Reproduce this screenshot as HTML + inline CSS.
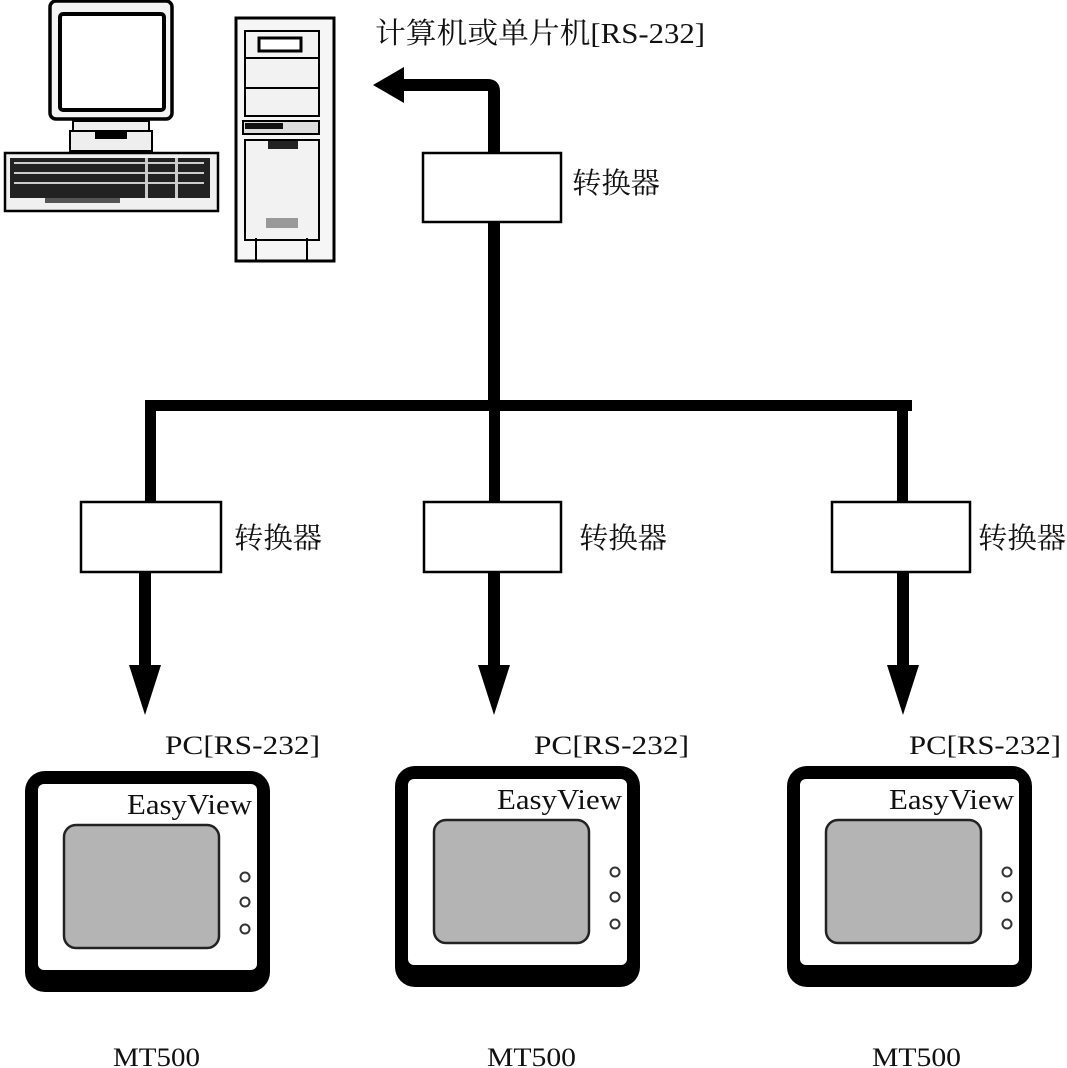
<!DOCTYPE html>
<html><head><meta charset="utf-8"><style>
html,body{margin:0;padding:0;background:#fff;}
svg{display:block;}
.cn{font-family:"Liberation Serif","Noto Serif CJK SC",serif;font-size:29px;fill:#111;}
.sr{font-family:"Liberation Serif",serif;font-size:26px;fill:#111;}
</style></head><body>
<svg width="1067" height="1068" viewBox="0 0 1067 1068" xmlns="http://www.w3.org/2000/svg">
<defs>
<g id="term">
  <rect x="0" y="0" width="245" height="221" rx="20" fill="#000"/>
  <rect x="13" y="13" width="219" height="186" rx="6" fill="#fff"/>
  <rect x="39" y="54" width="155" height="123" rx="12" fill="#b4b4b4" stroke="#222" stroke-width="2.5"/>
  <circle cx="220" cy="106" r="4.5" fill="#fff" stroke="#333" stroke-width="2"/>
  <circle cx="220" cy="131" r="4.5" fill="#fff" stroke="#333" stroke-width="2"/>
  <circle cx="220" cy="158" r="4.5" fill="#fff" stroke="#333" stroke-width="2"/>
  <text x="102" y="43" class="sr" style="font-size:28px" textLength="125" lengthAdjust="spacingAndGlyphs">EasyView</text>
</g>
</defs>

<!-- computer monitor -->
<rect x="50" y="1" width="122" height="118" rx="6" fill="#f4f4f4" stroke="#000" stroke-width="3.5"/>
<rect x="60" y="14" width="104" height="96" rx="3" fill="#fff" stroke="#000" stroke-width="4"/>
<rect x="73" y="121" width="76" height="10" fill="#eee" stroke="#000" stroke-width="2"/>
<rect x="70" y="131" width="82" height="20" fill="#eee" stroke="#000" stroke-width="2"/>
<rect x="95" y="131" width="32" height="8" fill="#000"/>
<!-- keyboard -->
<rect x="5" y="153" width="213" height="58" fill="#f0f0f0" stroke="#000" stroke-width="2.5"/>
<rect x="10" y="158" width="200" height="40" fill="#222"/>
<g fill="#ccc">
<rect x="14" y="162" width="190" height="2"/><rect x="14" y="172" width="190" height="2"/><rect x="14" y="182" width="190" height="2"/><rect x="145" y="158" width="3" height="40"/><rect x="175" y="158" width="3" height="40"/>
</g>
<rect x="45" y="198" width="75" height="5" fill="#555"/>
<!-- tower -->
<rect x="236" y="18" width="98" height="243" fill="#f6f6f6" stroke="#000" stroke-width="3"/>
<rect x="245" y="31" width="74" height="85" fill="#f2f2f2" stroke="#000" stroke-width="2"/>
<line x1="245" y1="58" x2="319" y2="58" stroke="#000" stroke-width="2"/>
<line x1="245" y1="88" x2="319" y2="88" stroke="#000" stroke-width="2"/>
<rect x="259" y="38" width="42" height="13" fill="#fff" stroke="#000" stroke-width="3"/>
<rect x="243" y="121" width="76" height="13" fill="#ddd" stroke="#000" stroke-width="2"/>
<rect x="245" y="123" width="38" height="6" fill="#111"/>
<rect x="245" y="140" width="74" height="100" fill="#f2f2f2" stroke="#000" stroke-width="2"/>
<rect x="268" y="141" width="30" height="8" fill="#222"/>
<rect x="266" y="218" width="32" height="10" fill="#999"/>
<line x1="256" y1="238" x2="256" y2="261" stroke="#000" stroke-width="2"/>
<line x1="307" y1="238" x2="307" y2="261" stroke="#000" stroke-width="2"/>

<!-- title -->
<text x="375" y="43" class="cn" textLength="330" lengthAdjust="spacingAndGlyphs">计算机或单片机[RS-232]</text>

<!-- top connector -->
<path d="M494 405 V91 Q494 85 488 85 H403" fill="none" stroke="#000" stroke-width="12"/>
<polygon points="373,85 404,67 404,103" fill="#000"/>
<rect x="423" y="153" width="138" height="69" fill="#fff" stroke="#000" stroke-width="2.5"/>
<text x="572" y="193" class="cn" textLength="88" lengthAdjust="spacingAndGlyphs">转换器</text>

<!-- bus -->
<rect x="145" y="400" width="767" height="11" fill="#000"/>
<rect x="145" y="400" width="11" height="102" fill="#000"/>
<rect x="489" y="400" width="11" height="102" fill="#000"/>
<rect x="897" y="400" width="11" height="102" fill="#000"/>

<!-- converters -->
<rect x="81" y="502" width="140" height="70" fill="#fff" stroke="#000" stroke-width="2.5"/>
<rect x="424" y="502" width="137" height="70" fill="#fff" stroke="#000" stroke-width="2.5"/>
<rect x="832" y="502" width="138" height="70" fill="#fff" stroke="#000" stroke-width="2.5"/>
<text x="234" y="548" class="cn" textLength="88" lengthAdjust="spacingAndGlyphs">转换器</text>
<text x="579" y="548" class="cn" textLength="88" lengthAdjust="spacingAndGlyphs">转换器</text>
<text x="978" y="548" class="cn" textLength="88" lengthAdjust="spacingAndGlyphs">转换器</text>

<!-- down arrows -->
<rect x="139" y="572" width="12" height="95" fill="#000"/>
<polygon points="129,665 161,665 145,715" fill="#000"/>
<rect x="488" y="572" width="12" height="95" fill="#000"/>
<polygon points="478,665 510,665 494,715" fill="#000"/>
<rect x="897" y="572" width="12" height="95" fill="#000"/>
<polygon points="887,665 919,665 903,715" fill="#000"/>

<text x="165" y="754" class="sr" textLength="155" lengthAdjust="spacingAndGlyphs">PC[RS-232]</text>
<text x="534" y="754" class="sr" textLength="155" lengthAdjust="spacingAndGlyphs">PC[RS-232]</text>
<text x="909" y="754" class="sr" textLength="152" lengthAdjust="spacingAndGlyphs">PC[RS-232]</text>

<use href="#term" x="25" y="771"/>
<use href="#term" x="395" y="766"/>
<use href="#term" x="787" y="766"/>

<text x="113" y="1066" class="sr" textLength="87" lengthAdjust="spacingAndGlyphs">MT500</text>
<text x="487" y="1066" class="sr" textLength="89" lengthAdjust="spacingAndGlyphs">MT500</text>
<text x="872" y="1066" class="sr" textLength="89" lengthAdjust="spacingAndGlyphs">MT500</text>
</svg>
</body></html>
